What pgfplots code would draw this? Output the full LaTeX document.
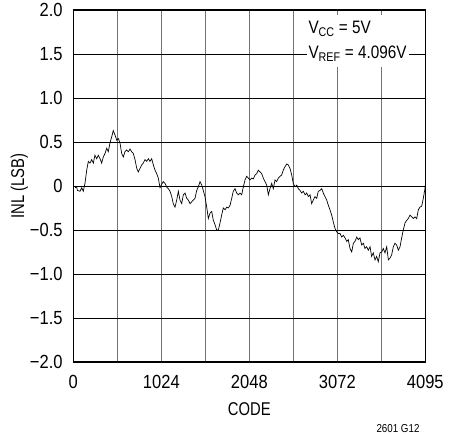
\documentclass[border=0pt]{standalone}
\usepackage{pgfplots}
\pgfplotsset{compat=1.18}
\usepackage{fontspec}
\setmainfont{Liberation Sans}[FakeStretch=0.85]
\newfontfamily\tickfont{Liberation Sans}[FakeStretch=0.87]
\newfontfamily\labelfont{Liberation Sans}[FakeStretch=0.8]

\pgfplotstableread{
code inl
20 -0.02
40 -0.01
47 -0.05
78 -0.06
98 -0.02
116 -0.06
136 0.03
156 0.18
175 0.28
194 0.26
214 0.30
233 0.26
252 0.35
272 0.31
291 0.35
311 0.31
330 0.26
349 0.33
369 0.37
389 0.43
407 0.39
427 0.49
447 0.56
465 0.63
485 0.58
505 0.52
524 0.54
543 0.49
563 0.37
582 0.33
601 0.39
621 0.41
640 0.39
660 0.42
679 0.39
698 0.37
718 0.30
738 0.20
756 0.16
776 0.20
796 0.24
814 0.26
834 0.30
854 0.28
873 0.31
892 0.28
912 0.31
931 0.24
951 0.18
970 0.14
989 0.09
1009 -0.02
1028 0.02
1047 0.05
1067 0.03
1086 -0.01
1105 -0.03
1125 -0.06
1145 -0.12
1163 -0.20
1183 -0.24
1203 -0.16
1222 -0.06
1241 -0.16
1261 -0.20
1280 -0.10
1300 -0.08
1319 -0.14
1338 -0.16
1358 -0.20
1377 -0.18
1396 -0.16
1416 -0.14
1436 -0.05
1454 -0.01
1474 0.05
1494 0.01
1512 -0.05
1532 -0.12
1552 -0.24
1571 -0.37
1590 -0.31
1610 -0.29
1629 -0.39
1649 -0.44
1668 -0.50
1687 -0.50
1707 -0.42
1726 -0.33
1745 -0.25
1765 -0.27
1785 -0.24
1803 -0.25
1823 -0.22
1843 -0.14
1861 -0.06
1881 -0.03
1901 -0.08
1920 -0.10
1939 -0.08
1959 -0.10
1978 -0.01
1998 0.07
2017 0.11
2036 0.09
2056 0.07
2075 0.09
2094 0.08
2114 0.125
2134 0.14
2152 0.18
2172 0.16
2192 0.14
2210 0.09
2230 0.05
2250 0.01
2269 -0.10
2288 -0.03
2308 0.03
2327 -0.03
2347 0.07
2366 0.05
2385 0.09
2405 0.11
2424 0.125
2443 0.18
2463 0.22
2483 0.25
2501 0.24
2521 0.20
2541 0.125
2559 0.03
2579 -0.01
2599 0.01
2618 -0.03
2637 -0.05
2657 -0.08
2676 -0.06
2696 -0.10
2715 -0.08
2734 -0.12
2754 -0.10
2773 -0.20
2792 -0.16
2812 -0.12
2832 -0.14
2850 -0.06
2870 -0.05
2890 -0.03
2908 -0.08
2928 -0.12
2948 -0.16
2967 -0.22
2986 -0.27
3006 -0.33
3025 -0.41
3044 -0.48
3064 -0.52
3083 -0.54
3103 -0.54
3122 -0.58
3141 -0.56
3161 -0.59
3181 -0.63
3199 -0.61
3219 -0.71
3239 -0.75
3258 -0.65
3277 -0.63
3297 -0.58
3316 -0.61
3335 -0.59
3355 -0.67
3374 -0.65
3393 -0.71
3413 -0.69
3432 -0.73
3452 -0.69
3471 -0.80
3490 -0.76
3510 -0.84
3529 -0.80
3548 -0.86
3568 -0.76
3588 -0.75
3606 -0.71
3626 -0.76
3646 -0.69
3665 -0.84
3684 -0.82
3704 -0.78
3723 -0.69
3742 -0.65
3762 -0.67
3781 -0.73
3801 -0.69
3820 -0.59
3839 -0.50
3859 -0.42
3879 -0.39
3897 -0.37
3917 -0.33
3937 -0.35
3956 -0.37
3975 -0.35
3995 -0.37
4014 -0.27
4033 -0.24
4053 -0.23
4072 -0.14
4091 -0.03
4095 0.01
}\inldata

\begin{document}
\begin{tikzpicture}
    \begin{axis}[
        scale only axis,
        width=352pt,
        height=352pt,
        xmin=0, xmax=4095,
        ymin=-2, ymax=2,
        xtick={0,1024,2048,3072,4095},
        xticklabels={0,1024,2048,3072,4095},
        minor xtick={512,1536,2560,3584},
        ytick={-2,-1.5,-1,-0.5,0,0.5,1,1.5,2},
        yticklabels={−2.0,−1.5,−1.0,−0.5,0,0.5,1.0,1.5,2.0},
        major tick length=0pt,
        minor tick length=0pt,
        xmajorgrids, xminorgrids, ymajorgrids,
        x grid style={black!55, line width=1.2pt},
        minor x grid style={black!55, line width=1.2pt},
        y grid style={black, line width=0.9pt},
        axis line style={black, line width=1.2pt},
        tick label style={font=\tickfont\fontsize{19}{22}\selectfont},
        xticklabel style={anchor=base, yshift=-26.5pt},
        yticklabel style={anchor=east, inner xsep=0pt, xshift=-10.5pt},
        xlabel={CODE},
        ylabel={INL (LSB)},
        label style={font=\labelfont\fontsize{18.5}{22}\selectfont},
        xlabel style={at={(axis description cs:0.5,0)}, anchor=base, yshift=-53pt},
        ylabel style={at={(axis description cs:-0.140,0.5)}, anchor=base},
    ]
    \addplot[black, line width=0.7pt] table[x=code, y=inl] {\inldata};

    % supply conditions box
    \node[fill=white, inner xsep=2pt, inner ysep=6pt, align=left,
          anchor=north west, font=\fontsize{18}{25}\selectfont]
        at (rel axis cs:0.662,0.986)
        {V\textsubscript{CC} = 5V\\V\textsubscript{REF} = 4.096V};
    \end{axis}
    \node[anchor=base east, font=\fontsize{11.5}{13}\selectfont]
        at (349.7pt,-70.5pt) {2601 G12};
    \pgfresetboundingbox
    \useasboundingbox (-73.3pt,-72pt) rectangle (376.7pt,362pt);
\end{tikzpicture}
\end{document}
